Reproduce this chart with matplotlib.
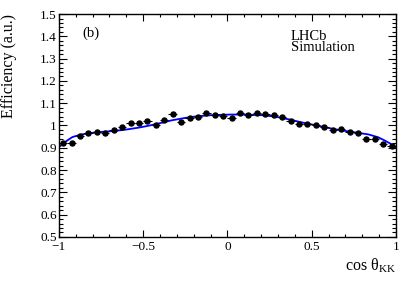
import matplotlib
matplotlib.use("Agg")
import matplotlib.pyplot as plt
from matplotlib.ticker import MultipleLocator, FuncFormatter

plt.rcParams['font.family'] = ['Liberation Serif', 'DejaVu Serif']
plt.rcParams['mathtext.fontset'] = 'custom'
plt.rcParams['mathtext.rm'] = 'Liberation Serif'
plt.rcParams['mathtext.it'] = 'Liberation Serif:italic'

# bin centres of cos(theta_KK) and the simulated efficiency
cos_kk = [-0.975, -0.925, -0.875, -0.825, -0.775, -0.725, -0.675, -0.625,
          -0.575, -0.525, -0.475, -0.425, -0.375, -0.325, -0.275, -0.225,
          -0.175, -0.125, -0.075, -0.025, 0.025, 0.075, 0.125, 0.175,
          0.225, 0.275, 0.325, 0.375, 0.425, 0.475, 0.525, 0.575,
          0.625, 0.675, 0.725, 0.775, 0.825, 0.875, 0.925, 0.975]
eff = [0.920, 0.923, 0.953, 0.965, 0.971, 0.965, 0.980, 0.995,
       1.010, 1.010, 1.019, 1.002, 1.025, 1.050, 1.017, 1.032,
       1.038, 1.057, 1.047, 1.043, 1.035, 1.055, 1.047, 1.057,
       1.050, 1.047, 1.040, 1.022, 1.005, 1.008, 1.002, 0.995,
       0.980, 0.986, 0.971, 0.968, 0.941, 0.941, 0.918, 0.908]
eff_err = [0.006] * len(eff)

# fitted acceptance curve
fit_x = [-1.0, -0.984, -0.95, -0.92, -0.875, -0.825, -0.78, -0.73, -0.68,
         -0.628, -0.58, -0.529, -0.48, -0.43, -0.38, -0.331, -0.25, -0.183,
         -0.1, 0.015, 0.1, 0.213, 0.29, 0.361, 0.44, 0.539, 0.638, 0.737,
         0.836, 0.895, 0.935, 0.975, 1.0]
fit_y = [0.903, 0.913, 0.933, 0.948, 0.958, 0.965, 0.969, 0.972, 0.975,
         0.979, 0.984, 0.990, 0.997, 1.005, 1.014, 1.023, 1.034, 1.041,
         1.046, 1.049, 1.049, 1.046, 1.039, 1.028, 1.014, 0.998, 0.983,
         0.971, 0.960, 0.947, 0.932, 0.915, 0.903]

fig = plt.figure(figsize=(4.15, 2.81), dpi=100)
ax = fig.add_axes([0.142, 0.157, 0.812, 0.793])

ax.plot(fit_x, fit_y, color='#0000ff', lw=1.3, zorder=2)
ax.errorbar(cos_kk, eff, yerr=eff_err, xerr=0.025, fmt='o', color='black',
            ms=3.6, elinewidth=0.8, capsize=0, zorder=3)

ax.set_xlim(-1, 1)
ax.set_ylim(0.5, 1.5)
ax.xaxis.set_major_locator(MultipleLocator(0.5))
ax.xaxis.set_minor_locator(MultipleLocator(0.1))
ax.yaxis.set_major_locator(MultipleLocator(0.1))
ax.yaxis.set_minor_locator(MultipleLocator(0.02))
fmt = FuncFormatter(lambda v, p: ('%g' % round(v, 2)).replace('-', '\u2212'))
ax.xaxis.set_major_formatter(fmt)
ax.yaxis.set_major_formatter(fmt)
ax.tick_params(which='both', direction='in', top=True, right=True,
               labelsize=9.5, width=0.8)
ax.tick_params(axis='y', which='major', length=6)
ax.tick_params(axis='y', which='minor', length=3)
ax.tick_params(axis='x', which='major', length=5)
ax.tick_params(axis='x', which='minor', length=2.5)
ax.tick_params(axis='x', pad=3)
ax.tick_params(axis='y', pad=1.5)
for s in ax.spines.values():
    s.set_linewidth(1.0)

ax.set_ylabel('Efficiency (a.u.)', fontsize=11.5)
ax.yaxis.set_label_coords(-0.125, 1.0)
ax.yaxis.label.set_horizontalalignment('right')
ax.set_xlabel('cos \u03b8$_{\\mathrm{KK}}$', fontsize=11.5)
ax.xaxis.set_label_coords(1.0, -0.09)
ax.xaxis.label.set_horizontalalignment('right')

ax.text(0.071, 0.915, '(b)', transform=ax.transAxes, fontsize=10.5,
        va='center')
ax.text(0.688, 0.901, 'LHCb', transform=ax.transAxes, fontsize=10.5,
        va='center')
ax.text(0.688, 0.848, 'Simulation', transform=ax.transAxes, fontsize=10.5,
        va='center')

fig.savefig('out.png', dpi=100)
